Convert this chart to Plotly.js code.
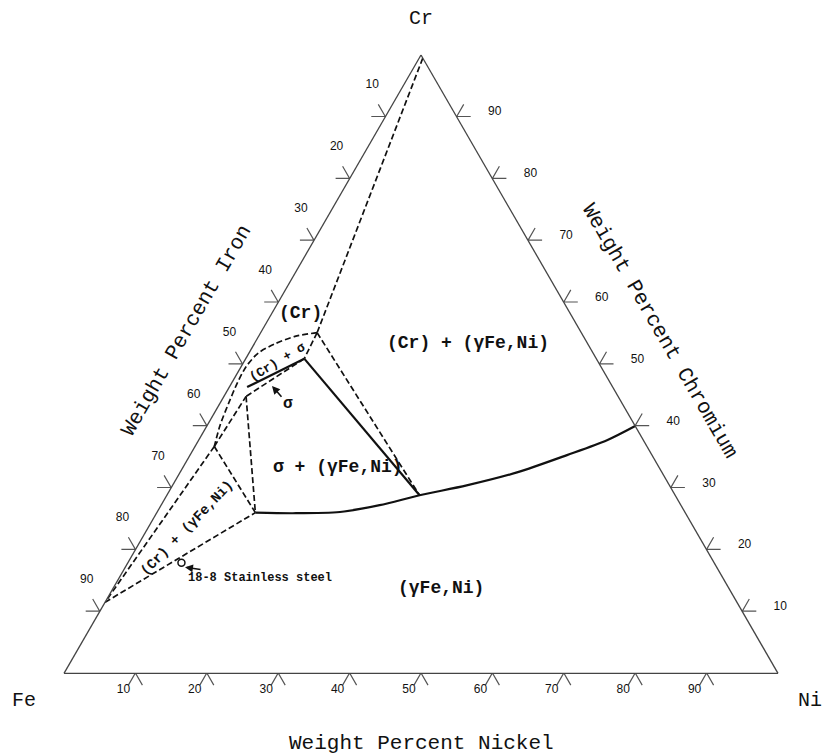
<!DOCTYPE html>
<html><head><meta charset="utf-8">
<script src="https://cdn.plot.ly/plotly-3.0.1.min.js"></script>
<style>html,body{margin:0;padding:0;background:#fff;}#chart{width:829px;height:755px;}</style>
</head><body><div id="chart"></div>
<script>
// ---- Data: compositions in weight percent, each point is [Fe, Ni, Cr] ----
const ptCrCorner = [0.0, 0.5, 99.5];
const ptA = [37.0, 7.9, 55.1];   // (Cr) corner, upper three-phase triangle
const ptB = [40.9, 8.2, 50.9];   // sigma corner, upper three-phase triangle
const ptC = [35.8, 35.4, 28.8];  // (gammaFe,Ni) corner, upper three-phase triangle
const ptS = [51.2, 2.5, 46.3];   // end of sigma band (upper edge)
const ptD = [52.1, 3.1, 44.8];   // sigma corner, lower three-phase triangle
const ptF = [60.6, 2.7, 36.7];   // (Cr) corner, lower three-phase triangle
const ptE = [60.2, 13.8, 26.0];  // (gammaFe,Ni) corner, lower three-phase triangle
const ptP = [88.5, 0.0, 11.5];   // limit on the Fe-Cr side
const ptG = [0.0, 60.0, 40.0];   // limit on the Ni-Cr side

// (Cr) solvus curve from A down to F
const crBoundFe = [37.0, 40.4, 43.8, 46.9, 49.7, 52.3, 55.0, 58.1, 60.6];
const crBoundNi = [7.9, 5.1, 2.9, 1.3, 0.7, 0.8, 1.2, 1.8, 2.7];
const crBoundCr = [55.1, 54.5, 53.3, 51.8, 49.6, 46.9, 43.8, 40.1, 36.7];

// (gammaFe,Ni) boundary from E through C to the Ni-Cr side
const gammaFe = [60.2, 55.0, 48.3, 42.2, 35.8, 28.4, 20.3, 11.9, 5.1, 0.0];
const gammaNi = [13.8, 19.1, 25.6, 30.6, 35.4, 41.2, 47.2, 52.8, 57.2, 60.0];
const gammaCr = [26.0, 25.9, 26.1, 27.2, 28.8, 30.4, 32.5, 35.3, 37.7, 40.0];

// 18-8 stainless steel
const steelFe = [74.6];
const steelNi = [7.5];
const steelCr = [17.9];

// axis ticks
const tickVals = [10, 20, 30, 40, 50, 60, 70, 80, 90];
const tickLabels = tickVals.map(String);

// ---- ternary traces ----
function seg(points, line, shape) {
  return {type: 'scatterternary', mode: 'lines',
    a: points.map(p => p[2]), b: points.map(p => p[0]), c: points.map(p => p[1]),
    line: Object.assign({shape: shape || 'linear'}, line), hoverinfo: 'skip', showlegend: false};
}
const DASH = {color: '#111', width: 1.7, dash: '6px,3px'};
const SOLID = {color: '#111', width: 2.2};

const traces = [];
[[ptCrCorner, ptA], [ptA, ptB], [ptA, ptC], [ptB, ptD], [ptD, ptE],
 [ptF, ptD], [ptF, ptE], [ptP, ptE], [ptF, ptP]].forEach(s => traces.push(seg(s, DASH)));
traces.push({type: 'scatterternary', mode: 'lines', a: crBoundCr, b: crBoundFe, c: crBoundNi,
  line: Object.assign({shape: 'spline', smoothing: 0.8}, DASH), hoverinfo: 'skip'});
[[ptB, ptS], [ptB, ptC]].forEach(s => traces.push(seg(s, SOLID)));
traces.push({type: 'scatterternary', mode: 'lines', a: gammaCr, b: gammaFe, c: gammaNi,
  line: Object.assign({shape: 'spline', smoothing: 0.8}, SOLID), hoverinfo: 'skip'});
traces.push({type: 'scatterternary', mode: 'markers', a: steelCr, b: steelFe, c: steelNi,
  marker: {symbol: 'circle-open', size: 7, color: '#111', line: {width: 1.5, color: '#111'}},
  hoverinfo: 'skip'});

// ---- chevron ticks and labels, drawn on a hidden cartesian overlay in composition units ----
// x = Ni + Cr/2, y = Cr*sqrt(3)/2 (standard ternary projection, same units as the ternary side = 100)
const R3 = Math.sqrt(3) / 2;
function cart(p) { return [p[1] + p[2] / 2, p[2] * R3]; }
const PX = 100 / 714;                 // composition units per pixel
const LEG = 14 * PX;
const sides = [
  {pt: t => [100 - t, t, 0], legs: [[-0.5, -R3], [0.5, -R3]], lab: [-12, -17]},
  {pt: t => [t, 0, 100 - t], legs: [[-1, 0], [-0.5, R3]],     lab: [-13, 31]},
  {pt: t => [0, 100 - t, t], legs: [[1, 0], [0.5, R3]],       lab: [38, 4]}
];
const tkx = [], tky = [], tlx = [], tly = [], tlt = [];
sides.forEach(sd => {
  tickVals.forEach((t, i) => {
    const q = cart(sd.pt(t));
    const l1 = sd.legs[0], l2 = sd.legs[1];
    tkx.push(q[0] + l1[0] * LEG, q[0], q[0] + l2[0] * LEG, null);
    tky.push(q[1] + l1[1] * LEG, q[1], q[1] + l2[1] * LEG, null);
    tlx.push(q[0] + sd.lab[0] * PX); tly.push(q[1] + sd.lab[1] * PX); tlt.push(tickLabels[i]);
  });
});
traces.push({type: 'scatter', mode: 'lines', x: tkx, y: tky, xaxis: 'x', yaxis: 'y',
  line: {color: '#555', width: 1.2}, hoverinfo: 'skip', cliponaxis: false});
traces.push({type: 'scatter', mode: 'text', x: tlx, y: tly, text: tlt, xaxis: 'x', yaxis: 'y',
  textposition: 'middle center', cliponaxis: false,
  textfont: {family: 'Liberation Sans, Arial, sans-serif', size: 12, color: '#111'}, hoverinfo: 'skip'});

// ---- annotations (paper coordinates) ----
const W = 829, H = 755;
const MONO = 'Liberation Mono, DejaVu Sans Mono, monospace';
function ann(text, x, y, size, extra) {
  return Object.assign({text: text, x: x / W, y: 1 - y / H, xref: 'paper', yref: 'paper',
    showarrow: false, xanchor: 'center', yanchor: 'middle',
    font: {family: MONO, size: size, color: '#111'}}, extra || {});
}
const annotations = [
  ann('Cr', 421, 18, 20),
  ann('Fe', 24, 700, 20),
  ann('Ni', 810, 700, 20),
  ann('Weight Percent Nickel', 421, 743, 21),
  ann('Weight Percent Iron', 186, 331, 21, {textangle: -60}),
  ann('Weight Percent Chromium', 660, 331, 21, {textangle: 60}),
  ann('<b>(Cr)</b>', 300, 313, 18),
  ann('<b>(Cr) + (γFe,Ni)</b>', 468, 343, 18),
  ann('<b>σ + (γFe,Ni)</b>', 338, 467, 18),
  ann('<b>(γFe,Ni)</b>', 441, 588, 18),
  ann('<b>(Cr) + σ</b>', 277, 362, 13, {textangle: -31}),
  ann('<b>(Cr) + (γFe,Ni)</b>', 187, 528, 14, {textangle: -46}),
  Object.assign(ann('<b>σ</b>', 272, 386, 16), {showarrow: true, ax: 16, ay: 18, arrowhead: 2,
    arrowsize: 1, arrowwidth: 1.6, arrowcolor: '#111', standoff: 0}),
  Object.assign(ann('<b>18-8 Stainless steel</b>', 183, 567, 12), {showarrow: true, ax: 77, ay: 11,
    arrowhead: 2, arrowsize: 1, arrowwidth: 1.6, arrowcolor: '#111', standoff: 2})
];

const axisStyle = {showgrid: false, showticklabels: false, ticks: '', showline: true,
  linecolor: '#444', linewidth: 1.3, title: {text: ''}};
// hidden cartesian overlay: triangle base (0..100) spans px 64..778, base at px 673
const layout = {
  width: W, height: H,
  margin: {l: 0, r: 0, t: 0, b: 0},
  paper_bgcolor: '#fff',
  plot_bgcolor: 'rgba(0,0,0,0)',
  showlegend: false,
  hovermode: false,
  ternary: {
    sum: 100,
    bgcolor: '#fff',
    domain: {x: [64 / W, 778 / W], y: [0.0876, 0.9476]},
    aaxis: axisStyle, baxis: axisStyle, caxis: axisStyle
  },
  xaxis: {visible: false, domain: [0, 1], range: [-64 * PX, (W - 64) * PX], fixedrange: true},
  yaxis: {visible: false, domain: [0, 1], range: [-(H - 673) * PX, 673 * PX], fixedrange: true},
  annotations: annotations
};
Plotly.newPlot('chart', traces, layout, {staticPlot: true, displayModeBar: false});
</script>
</body></html>
